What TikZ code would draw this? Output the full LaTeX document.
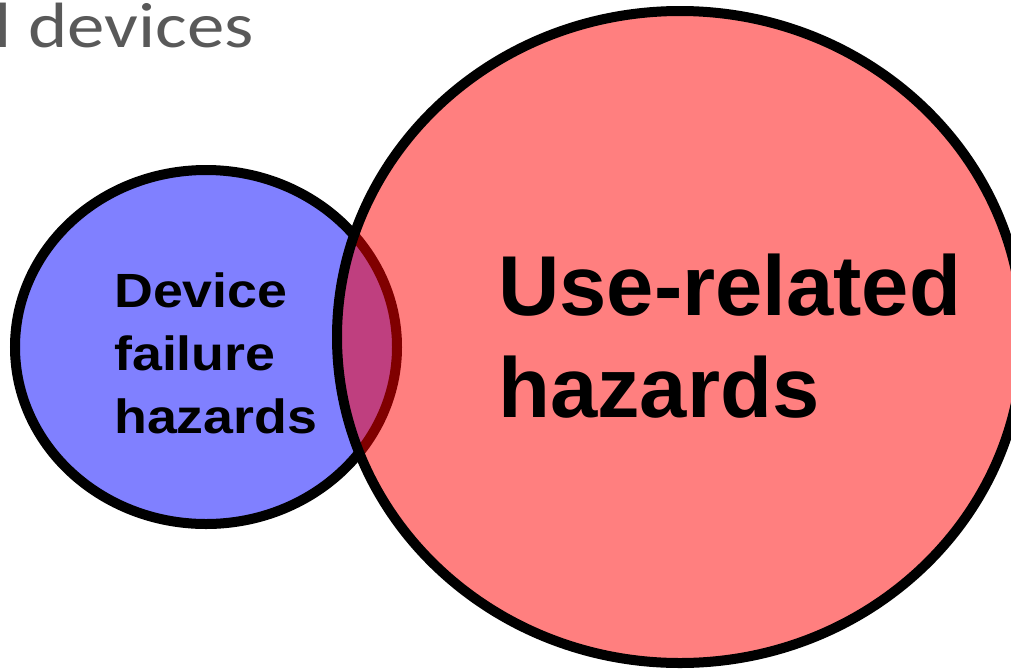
\documentclass[tikz,border=0pt]{standalone}
\usepackage{fontspec}
\setmainfont{Liberation Sans}
\newfontfamily\titlefont{Carlito}
\definecolor{bluefill}{RGB}{128,128,255}
\definecolor{titlegray}{RGB}{89,89,89}
\begin{document}
\begin{tikzpicture}[x=1pt,y=-1pt,
  setborder/.style={draw=black, line width=10pt},
  smalllbl/.style={font=\bfseries\fontsize{48}{58}\selectfont, inner sep=0pt, anchor=base west, xscale=1.12, transform shape},
  biglbl/.style={font=\bfseries\fontsize{85}{100}\selectfont, inner sep=0pt, anchor=base west},
  titlelbl/.style={font=\titlefont\fontsize{64}{70}\selectfont, text=titlegray, inner sep=0pt, anchor=base west, xscale=1.17, transform shape}]
\useasboundingbox (0,0) rectangle (1011,670);
\begin{scope}
\clip (0,0) rectangle (1011,670);
\draw[setborder, fill=bluefill] (206,347) ellipse [x radius=191, y radius=177];
\draw[setborder, fill=red, fill opacity=0.5] (680,337) ellipse [x radius=343, y radius=326];
\node[titlelbl] (title) at (-6,47) {l devices};
\end{scope}
\node[smalllbl] (d1) at (114,307) {Device};
\node[smalllbl] (d2) at (114,370) {failure};
\node[smalllbl] (d3) at (114,433) {hazards};
\node[biglbl] (u1) at (498,315) {Use-related};
\node[biglbl] (u2) at (498,417) {hazards};
\end{tikzpicture}
\end{document}
